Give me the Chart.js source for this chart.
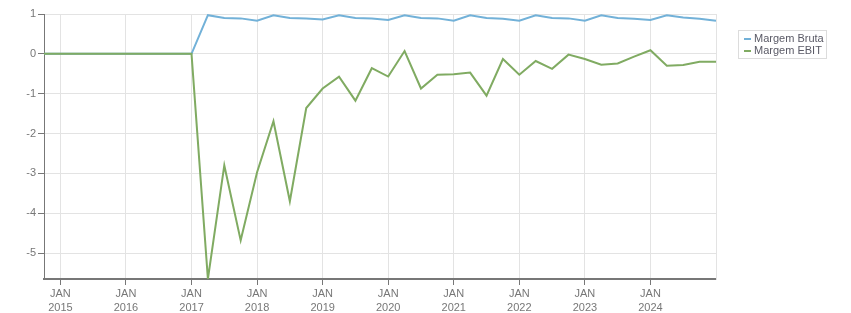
<!DOCTYPE html>
<html>
<head>
<meta charset="utf-8">
<script src="https://cdn.jsdelivr.net/npm/chart.js@4.4.1/dist/chart.umd.min.js"></script>
<style>
  html, body { margin: 0; padding: 0; background: #fff; }
  #wrap { width: 851px; height: 313px; }
</style>
</head>
<body>
<div id="wrap"><canvas id="chart" width="851" height="313"></canvas></div>
<script>
// quarter-end dates
const quarters = [
  '2014-09-30', '2014-12-31',
  '2015-03-31', '2015-06-30', '2015-09-30', '2015-12-31',
  '2016-03-31', '2016-06-30', '2016-09-30', '2016-12-31',
  '2017-03-31', '2017-06-30', '2017-09-30', '2017-12-31',
  '2018-03-31', '2018-06-30', '2018-09-30', '2018-12-31',
  '2019-03-31', '2019-06-30', '2019-09-30', '2019-12-31',
  '2020-03-31', '2020-06-30', '2020-09-30', '2020-12-31',
  '2021-03-31', '2021-06-30', '2021-09-30', '2021-12-31',
  '2022-03-31', '2022-06-30', '2022-09-30', '2022-12-31',
  '2023-03-31', '2023-06-30', '2023-09-30', '2023-12-31',
  '2024-03-31', '2024-06-30', '2024-09-30', '2024-12-31'
];

const margemBruta = [
  0, 0,
  0, 0, 0, 0,
  0, 0, 0, 0,
  0.97, 0.90, 0.89, 0.83,
  0.97, 0.90, 0.89, 0.86,
  0.97, 0.90, 0.89, 0.85,
  0.97, 0.90, 0.89, 0.83,
  0.97, 0.90, 0.88, 0.83,
  0.97, 0.90, 0.89, 0.83,
  0.97, 0.90, 0.88, 0.85,
  0.97, 0.91, 0.88, 0.83
];

const margemEbit = [
  0, 0,
  0, 0, 0, 0,
  0, 0, 0, 0,
  -5.65, -2.80, -4.68, -2.97,
  -1.69, -3.70, -1.36, -0.87,
  -0.575, -1.175, -0.36, -0.57,
  0.07, -0.87, -0.525, -0.51,
  -0.47, -1.05, -0.13, -0.525,
  -0.18, -0.375, -0.02, -0.13,
  -0.275, -0.24, -0.07, 0.09,
  -0.30, -0.28, -0.20, -0.20
];

const yTicks = [1, 0, -1, -2, -3, -4, -5];
const monthLabel = 'JAN';

const seriesNames = ['Margem Bruta', 'Margem EBIT'];
const seriesColors = ['#72b1d8', '#80ab62'];

// legend drawn by hand so it can sit in its little bordered box
const boxLegend = {
  id: 'boxLegend',
  afterDraw(chart) {
    const ctx = chart.ctx;
    ctx.save();
    ctx.strokeStyle = '#dcdcdc';
    ctx.lineWidth = 1;
    ctx.strokeRect(738.5, 30.5, 88, 28);
    ctx.font = '11px "Liberation Sans", Arial, sans-serif';
    ctx.textBaseline = 'middle';
    chart.data.datasets.forEach((ds, i) => {
      const y = 39 + i * 12;
      ctx.strokeStyle = ds.borderColor;
      ctx.lineWidth = 2;
      ctx.beginPath();
      ctx.moveTo(744, y);
      ctx.lineTo(751, y);
      ctx.stroke();
      ctx.fillStyle = '#5a5a66';
      ctx.fillText(ds.label, 754, y);
    });
    ctx.restore();
  }
};

new Chart(document.getElementById('chart'), {
  type: 'line',
  data: {
    labels: quarters,
    datasets: [
      // EBIT sits on top of Bruta where both are 0
      { label: seriesNames[0], data: margemBruta, borderColor: seriesColors[0], order: 1 },
      { label: seriesNames[1], data: margemEbit, borderColor: seriesColors[1], order: 0 }
    ]
  },
  options: {
    responsive: false,
    animation: false,
    layout: { padding: { top: 14, right: 135, left: 0, bottom: 0 } },
    elements: {
      point: { radius: 0 },
      line: { borderWidth: 2, tension: 0 }
    },
    plugins: {
      legend: { display: false },
      tooltip: { enabled: false }
    },
    scales: {
      x: {
        type: 'category',
        offset: false,
        afterFit(scale) { scale.height = 34; },
        ticks: {
          autoSkip: false,
          maxRotation: 0,
          minRotation: 0,
          padding: 2,
          color: '#777',
          font: { family: '"Liberation Sans", Arial, sans-serif', size: 11, lineHeight: 1.3 },
          callback(val, idx) {
            const d = quarters[idx];
            if (!d.endsWith('-12-31') || idx === quarters.length - 1) return null;
            return [monthLabel, String(Number(d.slice(0, 4)) + 1)];
          }
        },
        grid: { color: '#e3e3e3', tickLength: 6, tickColor: '#777' },
        border: { color: '#777', width: 2 }
      },
      y: {
        min: -5.65,
        max: 1,
        afterBuildTicks(scale) { scale.ticks = yTicks.map(v => ({ value: v })); },
        afterFit(scale) { scale.width = 44; },
        ticks: {
          padding: 2,
          color: '#777',
          font: { family: '"Liberation Sans", Arial, sans-serif', size: 11 }
        },
        grid: { color: '#e3e3e3', tickLength: 6, tickColor: '#777' },
        border: { color: '#777', width: 1 }
      },
      // empty right axis, only its light border closes the plot
      yRight: {
        position: 'right',
        min: -5.65,
        max: 1,
        afterFit(scale) { scale.width = 0; },
        ticks: { display: false },
        grid: { drawOnChartArea: false, drawTicks: false },
        border: { color: '#e3e3e3', width: 1 }
      }
    }
  },
  plugins: [boxLegend]
});
</script>
</body>
</html>
